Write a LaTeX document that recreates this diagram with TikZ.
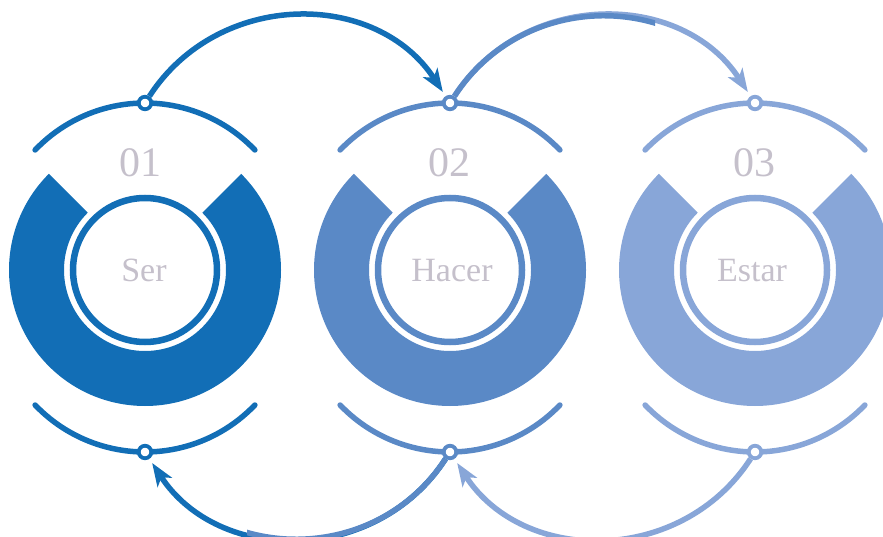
\documentclass[tikz,border=0pt]{standalone}
\usepackage{fontspec}
\setmainfont{Liberation Serif}
\usetikzlibrary{arrows.meta,calc}
\definecolor{cA}{RGB}{18,110,182}
\definecolor{cB}{RGB}{90,137,198}
\definecolor{cC}{RGB}{136,166,216}
\definecolor{txt}{RGB}{197,192,203}
\begin{document}
\begin{tikzpicture}[x=1pt,y=1pt,
  dot/.style={circle,draw,line width=3.8pt,fill=white,minimum size=12.5pt,inner sep=0pt},
  arcline/.style={line width=5.5pt,line cap=round},
  flowline/.style={line width=5.5pt,shorten >=5pt},
  flow/.style={flowline,-{Stealth[length=23pt,width=17pt,inset=6pt]}},
  num/.style={text=txt,font=\fontsize{42}{42}\selectfont,anchor=base,inner sep=0pt},
  word/.style={text=txt,font=\fontsize{34}{34}\selectfont,anchor=base,inner sep=0pt}]
\useasboundingbox (0,0) rectangle (883,536);
\foreach \cx/\col/\n/\w/\nx/\wx/\i in {145/cA/01/Ser/140/144/1, 450/cB/02/Hacer/449/452/2, 755/cC/03/Estar/754/752/3} {
  \fill[\col] ($(\cx,266)+(45:81)$) -- ($(\cx,266)+(45:136)$)
     arc[start angle=45,end angle=-225,radius=136]
     -- ($(\cx,266)+(135:81)$) arc[start angle=135,end angle=405,radius=81] -- cycle;
  \draw[\col,line width=6.5pt] (\cx,266) circle[radius=72];
  \draw[\col,arcline] ($(\cx,281)+(43.7:152)$) arc[start angle=43.7,end angle=136.3,radius=152];
  \draw[\col,arcline] ($(\cx,236)+(223.7:152)$) arc[start angle=223.7,end angle=316.3,radius=152];
  \node[dot,draw=\col] (t\i) at (\cx,433) {};
  \node[dot,draw=\col] (b\i) at (\cx,84) {};
  \node[num] (n\i) at (\nx,359) {\n};
  \node[word] (w\i) at (\wx,254) {\w};
}
% top arrows
\draw[flow,cA] (t1) to[out=57,in=123,looseness=1.1] (t2);
\draw[flow,cC] (t2) to[out=57,in=123,looseness=1.1] (t3);
\begin{scope}
  \clip (440,400) rectangle (655,536);
  \draw[flowline,cB] (t2) to[out=57,in=123,looseness=1.1] (t3);
\end{scope}
% bottom arrows
\draw[flow,cA] (b2) to[out=-123,in=-57,looseness=1.1] (b1);
\begin{scope}
  \clip (247,0) rectangle (460,100);
  \draw[flowline,cB] (b2) to[out=-123,in=-57,looseness=1.1] (b1);
\end{scope}
\draw[flow,cC] (b3) to[out=-123,in=-57,looseness=1.1] (b2);
\end{tikzpicture}
\end{document}
